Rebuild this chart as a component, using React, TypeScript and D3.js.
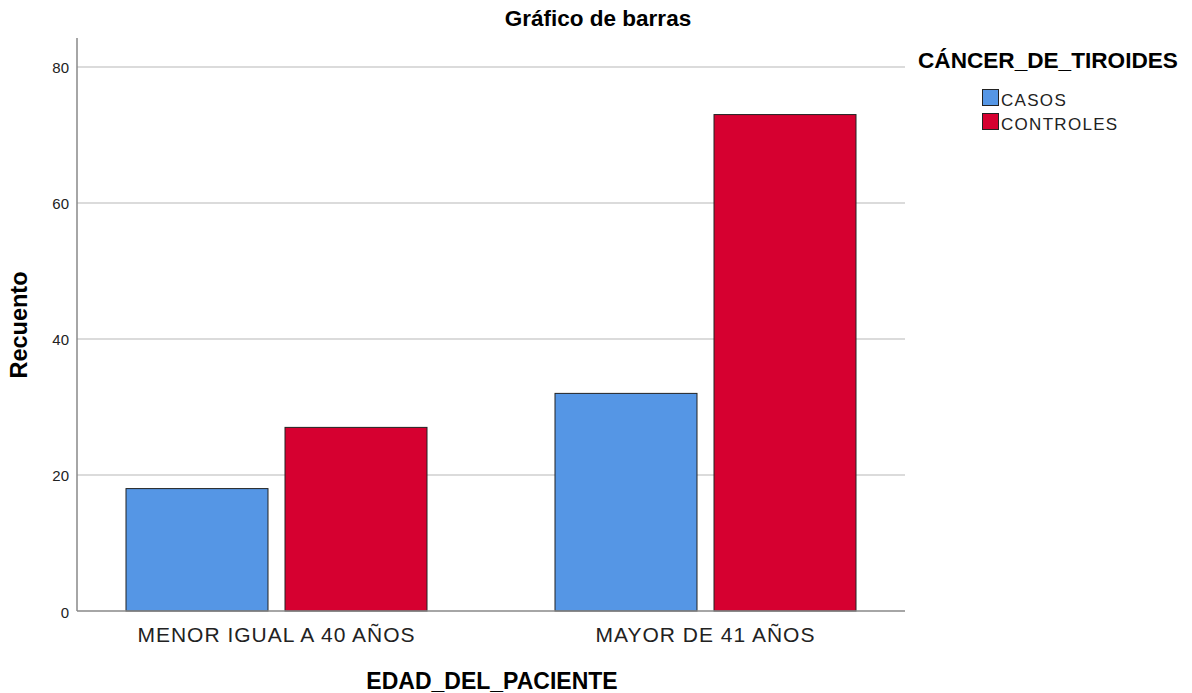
import React from "react";
import * as d3 from "d3";

const categories = ["MENOR IGUAL A 40 AÑOS", "MAYOR DE 41 AÑOS"];
const seriesNames = ["CASOS", "CONTROLES"];
const casos = [18, 32];
const controles = [27, 73];
const yTicks = [0, 20, 40, 60, 80];
const colors = ["#5596e5", "#d60030"];

export default function App() {
  const W = 1192, H = 693;
  const axisLeft = 77, axisRight = 905, yTop = 38, yBottom = 611;
  const y = d3.scaleLinear().domain([0, 84.26]).range([yBottom, yTop]);
  const x0 = d3.scaleBand<string>().domain(categories).range([62, 920]).padding(0);
  const x1 = d3.scaleBand<string>().domain(seriesNames).range([64, 365]).paddingInner(0.107);
  const values = [casos, controles];
  const font = "Liberation Sans, Arial, sans-serif";
  return (
    <svg width={W} height={H} style={{ position: "absolute", left: 0, top: 0, background: "#fff" }} fontFamily={font}>
      <rect width={W} height={H} fill="#fff" />
      <text x={598} y={26} textAnchor="middle" fontSize={22.5} fontWeight="bold" fill="#000">Gráfico de barras</text>
      {yTicks.filter((t) => t > 0).map((t) => (
        <line key={t} x1={axisLeft} x2={axisRight} y1={y(t)} y2={y(t)} stroke="#cfcfcf" strokeWidth={1.5} />
      ))}
      {yTicks.map((t) => (
        <text key={t} x={69} y={y(t) + 6.5} textAnchor="end" fontSize={15} fill="#222">{t}</text>
      ))}
      {categories.map((c, ci) =>
        seriesNames.map((s, si) => {
          const v = values[si][ci];
          const bx = (x0(c) as number) + (x1(s) as number);
          return (
            <rect key={c + s} x={bx} y={y(v)} width={x1.bandwidth()} height={yBottom - y(v)}
              fill={colors[si]} stroke="#222" strokeWidth={1} />
          );
        })
      )}
      <line x1={axisLeft} x2={axisLeft} y1={yTop} y2={yBottom} stroke="#888" strokeWidth={1.5} />
      <line x1={axisLeft} x2={axisRight} y1={yBottom} y2={yBottom} stroke="#888" strokeWidth={1.5} />
      {categories.map((c) => (
        <text key={c} x={(x0(c) as number) + x0.bandwidth() / 2} y={642} textAnchor="middle" fontSize={21} letterSpacing={1} fill="#222">{c}</text>
      ))}
      <text x={492} y={689} textAnchor="middle" fontSize={23} fontWeight="bold" fill="#000">EDAD_DEL_PACIENTE</text>
      <text transform={`translate(27,${325}) rotate(-90)`} textAnchor="middle" fontSize={23.5} fontWeight="bold" fill="#000">Recuento</text>
      <text x={918} y={68} fontSize={22.6} fontWeight="bold" fill="#000">CÁNCER_DE_TIROIDES</text>
      {seriesNames.map((s, i) => (
        <g key={s}>
          <rect x={982.5} y={89.5 + i * 24} width={16} height={16} fill={colors[i]} stroke="#222" strokeWidth={1} />
          <text x={1001} y={106 + i * 24} fontSize={17} letterSpacing={1.3} fill="#222">{s}</text>
        </g>
      ))}
    </svg>
  );
}
